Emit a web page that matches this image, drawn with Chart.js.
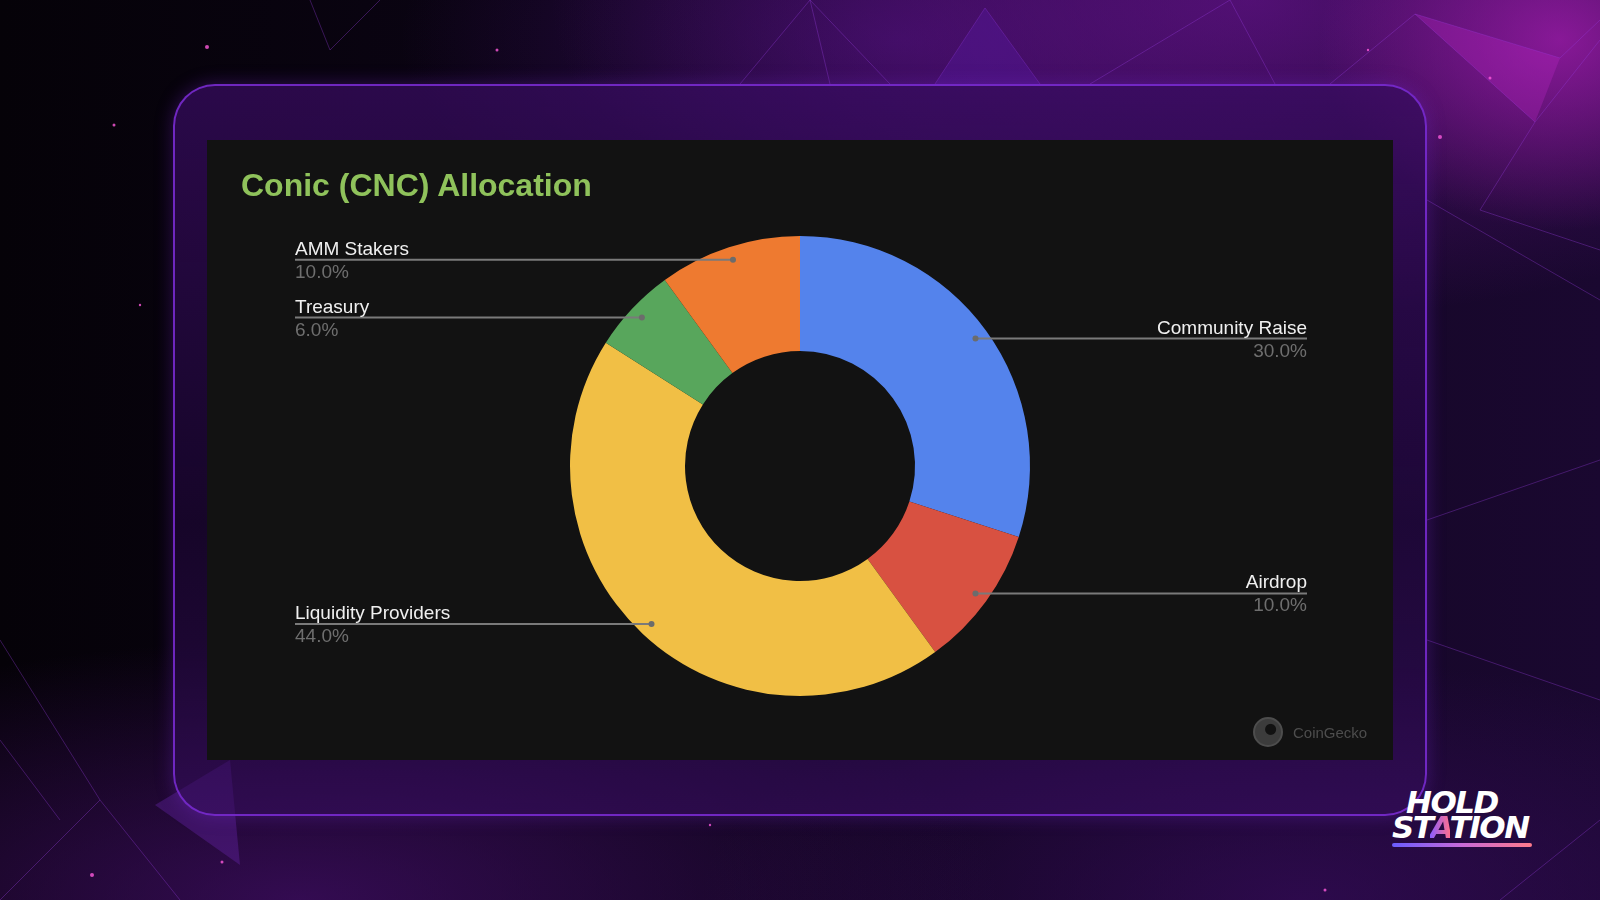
<!DOCTYPE html>
<html lang="en">
<head>
    <meta charset="UTF-8">
    <title>Conic (CNC) Allocation</title>
    <script src="https://cdn.jsdelivr.net/npm/chart.js"></script>
    <style>
        html, body {
            margin: 0;
            padding: 0;
        }
        body {
            width: 1600px;
            height: 900px;
            overflow: hidden;
            position: relative;
            font-family: "Liberation Sans", Arial, sans-serif;
            background:
                radial-gradient(ellipse 240px 190px at 1560px 40px, rgba(170, 30, 180, 0.7), rgba(170, 30, 180, 0) 100%),
                radial-gradient(ellipse 700px 320px at 1250px 0px, rgba(110, 20, 150, 0.65), rgba(110, 20, 150, 0) 100%),
                radial-gradient(ellipse 500px 220px at 900px 40px, rgba(70, 15, 120, 0.6), rgba(70, 15, 120, 0) 100%),
                radial-gradient(ellipse 700px 260px at 300px 900px, rgba(70, 15, 110, 0.7), rgba(70, 15, 110, 0) 100%),
                radial-gradient(ellipse 600px 240px at 1300px 900px, rgba(60, 12, 100, 0.6), rgba(60, 12, 100, 0) 100%),
                linear-gradient(90deg, #050208 0%, #0c0416 40%, #1a0830 100%);
        }
        #decor {
            position: absolute;
            left: 0;
            top: 0;
        }
        .frame {
            position: absolute;
            left: 173px;
            top: 84px;
            width: 1250px;
            height: 728px;
            border: 2px solid rgba(125, 45, 215, 0.85);
            border-radius: 42px;
            background: linear-gradient(180deg, rgba(55, 12, 95, 0.75) 0%, rgba(35, 8, 65, 0.55) 60%, rgba(55, 14, 95, 0.6) 100%);
            box-shadow: 0 0 18px rgba(120, 40, 210, 0.35);
        }
        .panel {
            position: absolute;
            left: 207px;
            top: 140px;
            width: 1186px;
            height: 620px;
            background: #121212;
        }
        .panel canvas {
            position: absolute;
            left: 0;
            top: 0;
        }
        .title {
            position: absolute;
            left: 34px;
            top: 29px;
            font-size: 32px;
            line-height: 1;
            font-weight: bold;
            color: #8fc25b;
        }
        .gecko {
            position: absolute;
            left: 1046px;
            top: 577px;
            height: 30px;
            display: flex;
            align-items: center;
            color: #4d4d4d;
            font-size: 15px;
        }
        .gecko .icon {
            width: 26px;
            height: 26px;
            border: 2px solid #4d4d4d;
            border-radius: 50%;
            margin-right: 10px;
            background: radial-gradient(circle at 60% 40%, #121212 0 5px, #3c3c3c 6px 100%);
        }
        .logo {
            position: absolute;
            left: 1392px;
            top: 790px;
            color: #ffffff;
            font-family: "DejaVu Sans", sans-serif;
            font-weight: bold;
            font-style: italic;
            font-size: 31px;
            line-height: 25px;
            letter-spacing: -1.5px;
        }
        .logo .l1 {
            padding-left: 14px;
        }
        .logo .a {
            background: linear-gradient(90deg, #8a5cff, #ff6f8e);
            -webkit-background-clip: text;
            background-clip: text;
            color: transparent;
        }
        .logo .swoosh {
            width: 140px;
            height: 4px;
            margin-top: 3px;
            border-radius: 2px;
            background: linear-gradient(90deg, #6b5cff, #c86ad8, #ff7a8a);
        }
    </style>
</head>
<body>
    <svg id="decor" width="1600" height="900">
        <g stroke="rgba(150, 60, 220, 0.35)" stroke-width="1" fill="none">
            <path d="M310 0 L330 50 L380 0"/>
            <path d="M810 0 L740 84 M810 0 L890 84 M810 0 L830 84"/>
            <path d="M985 8 L935 84 M985 8 L1040 84"/>
            <path d="M1230 0 L1090 84 M1230 0 L1275 84"/>
            <path d="M1415 14 L1330 84 M1415 14 L1560 58 M1415 14 L1535 122 L1600 40 M1560 58 L1600 20"/>
            <path d="M1535 122 L1480 210 L1600 250 M1427 200 L1600 300"/>
            <path d="M0 640 L100 800 L0 900 M100 800 L180 900 M0 740 L60 820"/>
            <path d="M1427 520 L1600 460 M1427 640 L1600 700 M1600 820 L1500 900"/>
        </g>
        <polygon points="985,8 935,84 1040,84" fill="rgba(90, 25, 170, 0.35)"/>
        <polygon points="1415,14 1560,58 1535,122" fill="rgba(190, 40, 200, 0.3)"/>
        <polygon points="155,805 230,760 240,865" fill="rgba(110, 40, 180, 0.35)"/>
        <g fill="rgba(255, 90, 220, 0.8)">
            <circle cx="207" cy="47" r="2"/>
            <circle cx="497" cy="50" r="1.5"/>
            <circle cx="114" cy="125" r="1.5"/>
            <circle cx="140" cy="305" r="1.2"/>
            <circle cx="1440" cy="137" r="2"/>
            <circle cx="1490" cy="78" r="1.5"/>
            <circle cx="1368" cy="50" r="1.2"/>
            <circle cx="92" cy="875" r="2"/>
            <circle cx="222" cy="862" r="1.5"/>
            <circle cx="1325" cy="890" r="1.5"/>
            <circle cx="710" cy="825" r="1.2"/>
        </g>
    </svg>

    <div class="frame"></div>

    <div class="panel">
        <canvas id="donut" width="1186" height="620"></canvas>
        <div class="title">Conic (CNC) Allocation</div>
        <div class="gecko"><span class="icon"></span>CoinGecko</div>
    </div>

    <div class="logo">
        <div class="l1">HOLD</div>
        <div>ST<span class="a">A</span>TION</div>
        <div class="swoosh"></div>
    </div>

    <script>
        // Dados da alocação (sentido horário a partir do topo)
        var categories = ['Community Raise', 'Airdrop', 'Liquidity Providers', 'Treasury', 'AMM Stakers'];
        var shares = [30, 10, 44, 6, 10];
        var sliceColors = ['#5483ec', '#d85141', '#f1bf45', '#58a65c', '#ee7a30'];

        var total = shares.reduce(function(a, b) { return a + b; }, 0);

        // Rótulos com linha guia, no estilo do Google Sheets
        var leaderLabels = {
            id: 'leaderLabels',
            afterDatasetsDraw: function(chart) {
                var ctx = chart.ctx;
                var meta = chart.getDatasetMeta(0);
                ctx.save();
                ctx.font = '19px "Liberation Sans", Arial, sans-serif';
                meta.data.forEach(function(arc, i) {
                    var mid = (arc.startAngle + arc.endAngle) / 2;
                    var r = arc.outerRadius * 0.943;
                    var px = arc.x + Math.cos(mid) * r;
                    var py = arc.y + Math.sin(mid) * r;
                    var right = px > arc.x;
                    var lx = right ? 1100 : 88;

                    ctx.strokeStyle = '#7a7a7a';
                    ctx.lineWidth = 2;
                    ctx.beginPath();
                    ctx.moveTo(lx, py);
                    ctx.lineTo(px, py);
                    ctx.stroke();

                    ctx.fillStyle = '#6c6c6c';
                    ctx.beginPath();
                    ctx.arc(px, py, 3, 0, Math.PI * 2);
                    ctx.fill();

                    ctx.textAlign = right ? 'right' : 'left';
                    ctx.textBaseline = 'alphabetic';
                    ctx.fillStyle = '#f0f0f0';
                    ctx.fillText(categories[i], lx, py - 5);
                    ctx.fillStyle = '#6e6e6e';
                    ctx.fillText((shares[i] / total * 100).toFixed(1) + '%', lx, py + 18);
                });
                ctx.restore();
            }
        };

        var ctxDonut = document.getElementById('donut').getContext('2d');
        var donutChart = new Chart(ctxDonut, {
            type: 'doughnut',
            data: {
                labels: categories,
                datasets: [{
                    data: shares,
                    backgroundColor: sliceColors,
                    borderWidth: 0
                }]
            },
            options: {
                responsive: false,
                animation: false,
                cutout: '50%',
                layout: {
                    padding: { top: 96, bottom: 64, left: 0, right: 0 }
                },
                plugins: {
                    legend: { display: false },
                    tooltip: { enabled: false }
                }
            },
            plugins: [leaderLabels]
        });
    </script>
</body>
</html>
